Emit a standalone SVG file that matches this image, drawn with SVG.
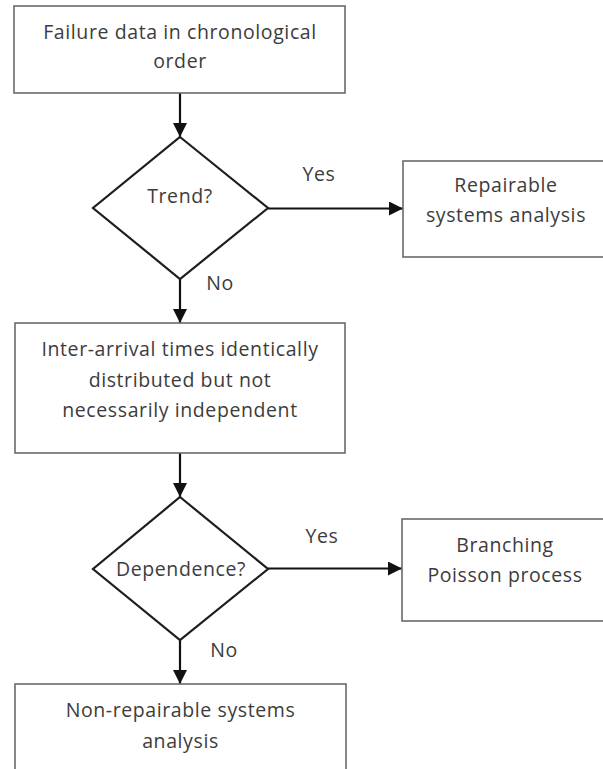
<svg xmlns="http://www.w3.org/2000/svg" width="603" height="769" viewBox="0 0 603 769">
  <defs>
    <style>
      .box { fill: #ffffff; stroke: #6a6a6a; stroke-width: 1.6; }
      .decision { fill: #ffffff; stroke: #1e1e1e; stroke-width: 2.2; stroke-linejoin: miter; }
      .label { font-family: "Open Sans", "Noto Sans", "Liberation Sans", sans-serif; font-size: 19.5px; letter-spacing: 0.6px; fill: #3c3c3c; text-anchor: middle; }
      .edge { stroke: #111111; stroke-width: 2.2; fill: none; marker-end: url(#arrow); }
    </style>
    <marker id="arrow" markerUnits="userSpaceOnUse" markerWidth="15" markerHeight="15" refX="14" refY="7" orient="auto">
      <path d="M0,0 L14,7 L0,14 z" fill="#111111"/>
    </marker>
  </defs>
  <rect width="603" height="769" fill="#ffffff"/>

  <g id="connectors">
    <line class="edge" x1="180" y1="93" x2="180" y2="137"/>
    <line class="edge" x1="268" y1="208.5" x2="403" y2="208.5"/>
    <line class="edge" x1="180" y1="279" x2="180" y2="323"/>
    <line class="edge" x1="180" y1="453" x2="180" y2="497"/>
    <line class="edge" x1="268" y1="568.5" x2="402" y2="568.5"/>
    <line class="edge" x1="180" y1="640" x2="180" y2="684"/>
    <text class="label" x="319" y="181">Yes</text>
    <text class="label" x="220" y="290">No</text>
    <text class="label" x="322" y="543">Yes</text>
    <text class="label" x="224" y="657">No</text>
  </g>

  <g id="failure-data">
    <rect class="box" x="14" y="6" width="331" height="87"/>
    <text class="label" x="180" y="39">Failure data in chronological</text>
    <text class="label" x="180" y="68">order</text>
  </g>

  <g id="trend">
    <polygon class="decision" points="180,137 268,208 180,279 93,208"/>
    <text class="label" x="180" y="203">Trend?</text>
  </g>

  <g id="repairable">
    <rect class="box" x="403" y="161" width="210" height="96"/>
    <text class="label" x="506" y="192">Repairable</text>
    <text class="label" x="506" y="222">systems analysis</text>
  </g>

  <g id="inter-arrival">
    <rect class="box" x="15" y="323" width="330" height="130"/>
    <text class="label" x="180" y="356">Inter-arrival times identically</text>
    <text class="label" x="180" y="387">distributed but not</text>
    <text class="label" x="180" y="417">necessarily independent</text>
  </g>

  <g id="dependence">
    <polygon class="decision" points="180,497 268,569 180,640 93,569"/>
    <text class="label" x="181" y="576">Dependence?</text>
  </g>

  <g id="branching">
    <rect class="box" x="402" y="519" width="210" height="102"/>
    <text class="label" x="505" y="552">Branching</text>
    <text class="label" x="505" y="582">Poisson process</text>
  </g>

  <g id="non-repairable">
    <rect class="box" x="15" y="684" width="331" height="100"/>
    <text class="label" x="180.5" y="717">Non-repairable systems</text>
    <text class="label" x="180.5" y="748">analysis</text>
  </g>
</svg>
